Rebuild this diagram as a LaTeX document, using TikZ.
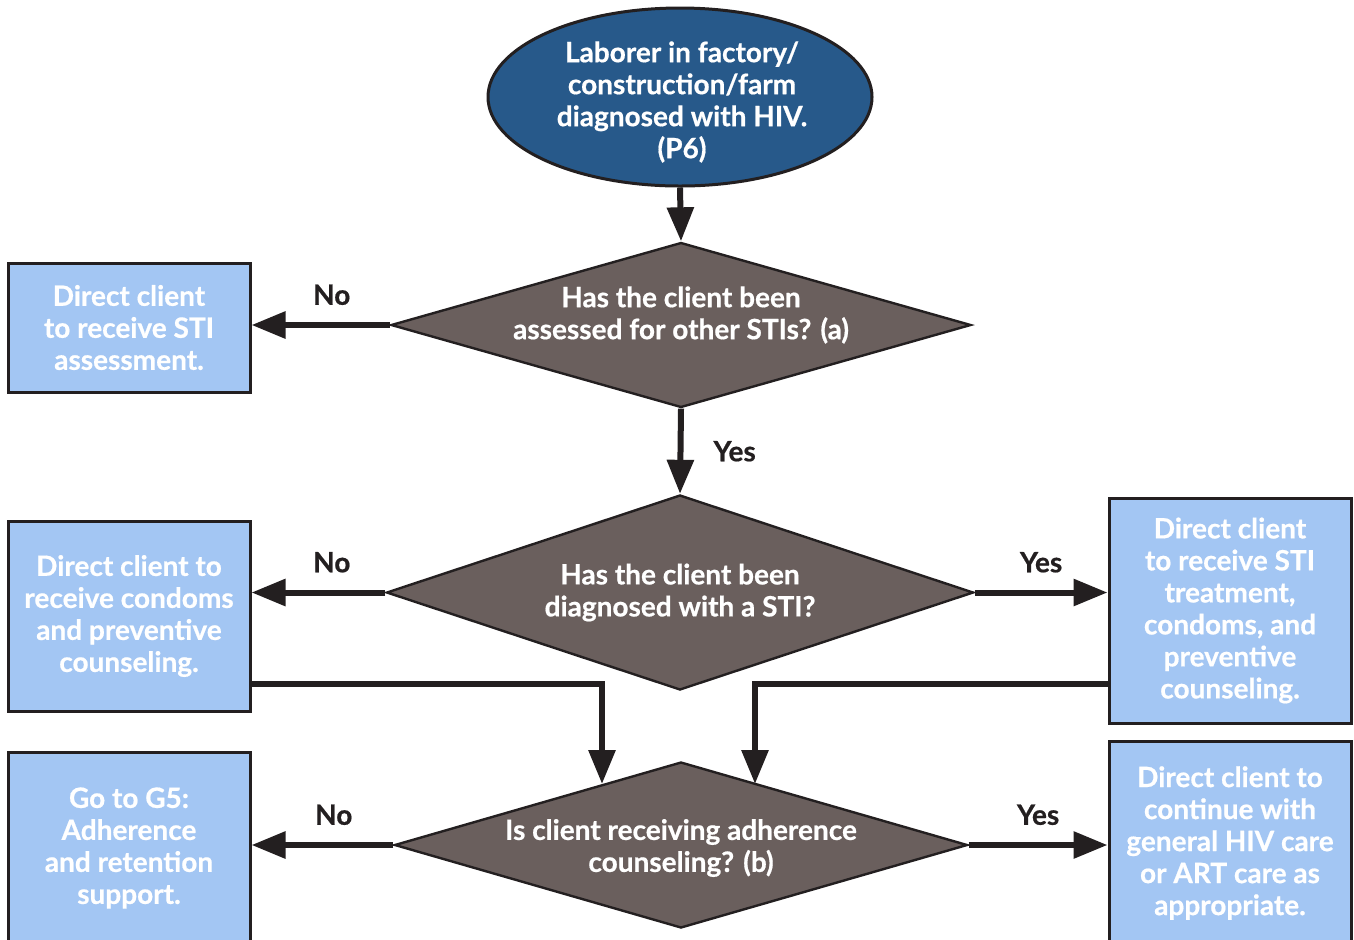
\documentclass[tikz,border=0pt]{standalone}
\usepackage{fontspec}
\setmainfont{Lato}[BoldFeatures={FakeBold=0.6}]
\usetikzlibrary{shapes.geometric, arrows.meta, positioning}

\definecolor{startblue}{HTML}{27598A}
\definecolor{questiongray}{HTML}{6A5F5D}
\definecolor{actionblue}{HTML}{A3C6F3}
\definecolor{edgeblack}{HTML}{231F20}

\begin{document}
\begin{tikzpicture}[
    x=0.5pt, y=-0.5pt,
    font=\fontsize{14}{16}\selectfont\bfseries,
    start/.style={ellipse, draw=edgeblack, line width=1.5pt, fill=startblue, text=white, align=center, minimum width=192pt, minimum height=89pt, inner sep=0pt},
    question/.style={diamond, draw=edgeblack, line width=1.2pt, fill=questiongray, text=white, align=center, inner sep=0pt, aspect=3.5},
    qtext/.style={text=white, align=center, inner sep=0pt},
    action/.style={rectangle, draw=edgeblack, line width=1.5pt, fill=actionblue, text=white, align=center, minimum width=121pt, inner sep=0pt},
    line/.style={draw=edgeblack, line width=3pt, -{Triangle[length=17pt, width=13pt]}},
    answer/.style={text=edgeblack, inner sep=0pt}
]
\useasboundingbox (0,0) rectangle (1354,939);

% Start
\node[start] (hiv) at (680,97) {};
\node[qtext] (hivtext) at (682,102) {Laborer in factory/\\construction/farm\\diagnosed with HIV.\\(P6)};

% Questions
\node[question, minimum width=290pt, minimum height=82.5pt] (assessed) at (681,325) {};
\node[qtext] (assessedtext) at (681,315) {Has the client been\\assessed for other STIs? (a)};
\node[question, minimum width=293.5pt, minimum height=97.5pt] (diagnosed) at (680,592.5) {Has the client been\\diagnosed with a STI?};
\node[question, minimum width=286.5pt, minimum height=83pt, aspect=3.45] (adherence) at (681,845) {};
\node[qtext] (adherencetext) at (681,848) {Is client receiving adherence\\counseling? (b)};

% Actions
\node[action, minimum height=64.5pt] (stiassess) at (129,327.5) {Direct client\\to receive STI\\assessment.};
\node[action, minimum height=95pt] (condoms) at (129,616) {Direct client to\\receive condoms\\and preventive\\counseling.};
\node[action, minimum height=112.5pt] (treatment) at (1230,610.5) {Direct client\\to receive STI\\treatment,\\condoms, and\\preventive\\counseling.};
\node[action, minimum height=96pt] (gofive) at (129,848) {Go to G5:\\Adherence\\and retention\\support.};
\node[action, minimum height=102pt] (continue) at (1230,843) {Direct client to\\continue with\\general HIV care\\or ART care as\\appropriate.};

% Merge points on the last question
\coordinate (mergeleft) at (602,784);
\coordinate (mergeright) at (755,784);

% Connections
\draw[line] (hiv.south) -- (assessed.north);
\draw[line] (assessed.west) -- node[answer, above=8.5pt, pos=0.42] {No} (assessed.west -| stiassess.east);
\draw[line] (assessed.south) -- node[answer, right=15pt] {Yes} (diagnosed.north);

\draw[line] (diagnosed.west) -- node[answer, above=8.5pt, pos=0.4] {No} (diagnosed.west -| condoms.east);
\draw[line] (diagnosed.east) -- node[answer, above=8.5pt] {Yes} (diagnosed.east -| treatment.west);

\draw[line] ([yshift=14.5pt]condoms.south east) -| (mergeleft);
\draw[line] ([yshift=20.5pt]treatment.south west) -| (mergeright);

\draw[line] (adherence.west) -- node[answer, above=8.5pt, pos=0.42] {No} (adherence.west -| gofive.east);
\draw[line] (adherence.east) -- node[answer, above=8.5pt] {Yes} (adherence.east -| continue.west);

\end{tikzpicture}
\end{document}
